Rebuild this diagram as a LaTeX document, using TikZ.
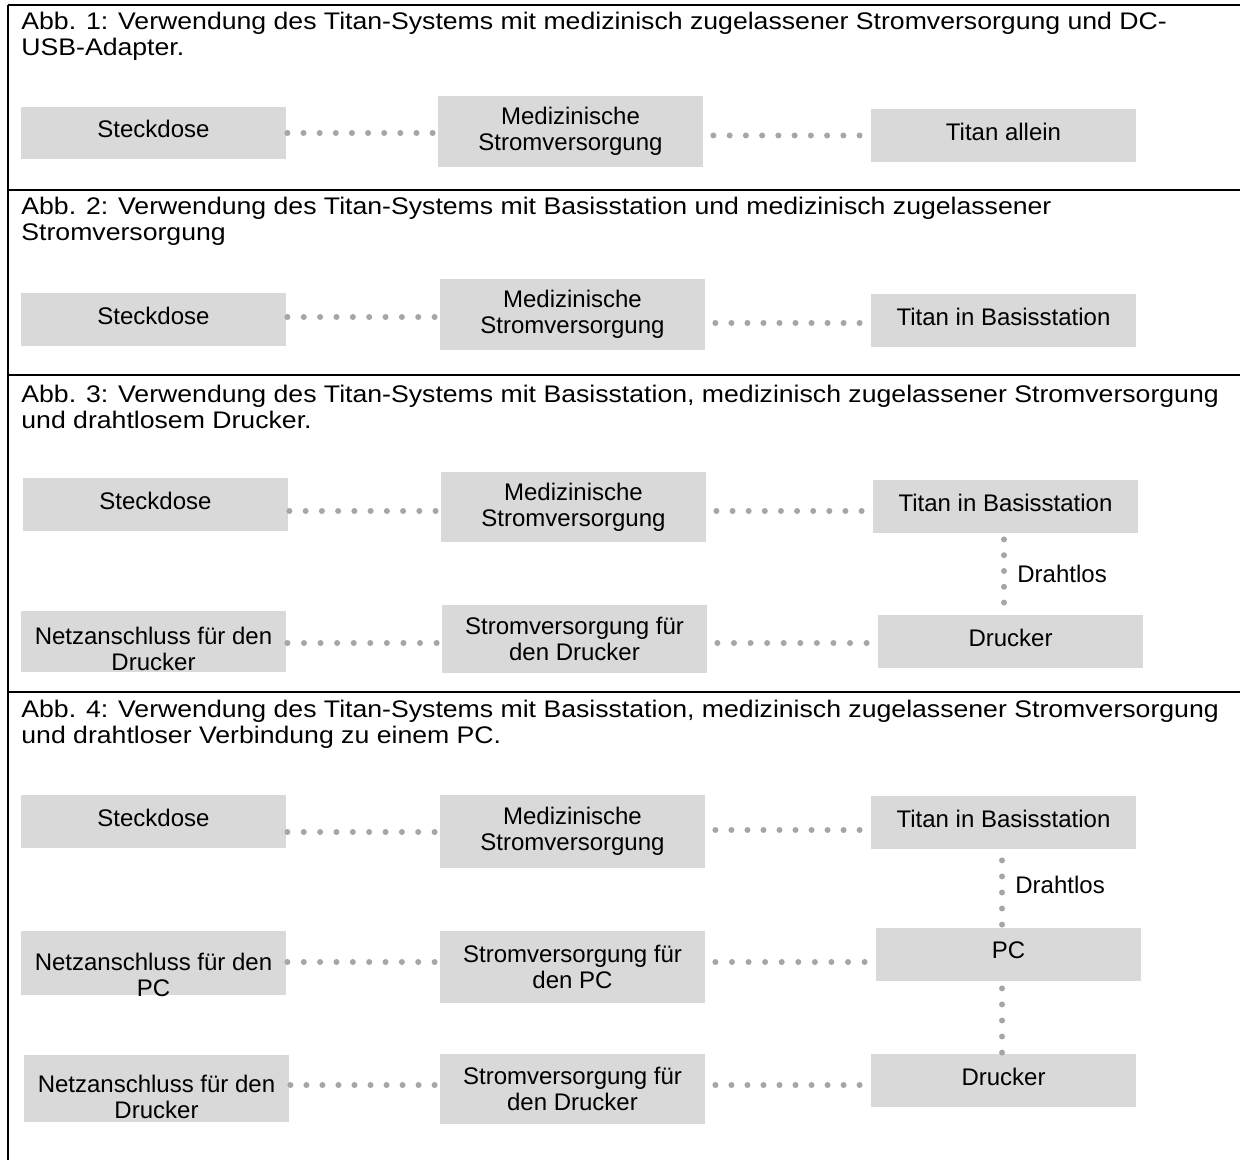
\documentclass[tikz,border=0pt]{standalone}
\usepackage{fontspec}
\setmainfont{Liberation Sans}
\newfontfamily\titlefont[FakeStretch=1.11]{Liberation Sans}
\usetikzlibrary{decorations.markings}
\definecolor{boxgray}{HTML}{D9D9D9}
\definecolor{dotgray}{HTML}{A6A6A6}
\newcommand{\lowtext}[2]{\raisebox{-#1}[\height][\depth]{\begin{tabular}{@{}c@{}}#2\end{tabular}}}
\begin{document}
\begin{tikzpicture}[x=0.5pt,y=-0.5pt,
  txt/.style={font=\fontsize{12pt}{13pt}\selectfont, text=black},
  box/.style={txt, fill=boxgray, minimum width=132.5pt, inner sep=0pt, align=center},
  onebox/.style={box, minimum height=26.5pt, text depth=4pt},
  hdots/.style={postaction={decorate}, decoration={markings,
      mark=between positions 0 and 1 step 0.1111 with {\fill[dotgray] (0,0) circle (1.5pt);}}},
  vdots/.style={postaction={decorate}, decoration={markings,
      mark=between positions 0 and 1 step 0.2499 with {\fill[dotgray] (0,0) circle (1.5pt);}}},
  figtitle/.style={font=\titlefont\fontsize{12pt}{13pt}\selectfont, text=black, anchor=base west, align=left, inner sep=0pt},
  rule/.style={line width=1pt, draw=black},
  wlabel/.style={txt, anchor=west, inner sep=0pt, xshift=6.5pt}]
\useasboundingbox (0,0) rectangle (1240,1160);
% frame
\coordinate (tl) at (8,5);
\coordinate (tr) at (1240,5);
\coordinate (bl) at (8,1160);
\coordinate (r1l) at (8,190);  \coordinate (r1r) at (1240,190);
\coordinate (r2l) at (8,375);  \coordinate (r2r) at (1240,375);
\coordinate (r3l) at (8,692);  \coordinate (r3r) at (1240,692);
\draw[rule] (tl) -- (tr);
\draw[rule] (tl) -- (bl);
\draw[rule] (r1l) -- (r1r);
\draw[rule] (r2l) -- (r2r);
\draw[rule] (r3l) -- (r3r);

% ---------- Abb. 1
\node[figtitle] (t1) at (21,56) {Abb. 1: Verwendung des Titan-Systems mit medizinisch zugelassener Stromversorgung und DC-\\USB-Adapter.};
\node[onebox, minimum height=26pt] (s1a) at (153.5,133) {Steckdose};
\node[box, minimum height=35.5pt] (s1b) at (570.5,131.5) {Medizinische\\Stromversorgung};
\node[onebox] (s1c) at (1003.5,135.5) {Titan allein};
\path[hdots] ([xshift=0.5pt]s1a.east) -- ([xshift=-2.5pt]s1a.east -| s1b.west);
\path[hdots] ([xshift=5pt]s1b.east |- s1c.west) -- ([xshift=-5.5pt]s1c.west);

% ---------- Abb. 2
\node[figtitle] (t2) at (21,241) {Abb. 2: Verwendung des Titan-Systems mit Basisstation und medizinisch zugelassener\\Stromversorgung};
\node[onebox] (s2a) at (153.5,319.5) {Steckdose};
\node[box, minimum height=35.5pt] (s2b) at (572.5,314.5) {Medizinische\\Stromversorgung};
\node[onebox] (s2c) at (1003.5,320.5) {Titan in Basisstation};
\path[hdots] ([xshift=0.5pt]s2a.east |- 0,317) -- ([xshift=-2.5pt]s2b.west |- 0,317);
\path[hdots] ([xshift=5pt]s2b.east |- 0,323) -- ([xshift=-5.5pt]s2c.west |- 0,323);

% ---------- Abb. 3
\node[figtitle] (t3) at (21,428) {Abb. 3: Verwendung des Titan-Systems mit Basisstation, medizinisch zugelassener Stromversorgung\\und drahtlosem Drucker.};
\node[onebox] (s3a) at (155.5,504.5) {Steckdose};
\node[box, minimum height=35pt] (s3b) at (573.5,507) {Medizinische\\Stromversorgung};
\node[onebox] (s3c) at (1005.5,506.5) {Titan in Basisstation};
\node[box, minimum height=30.5pt] (s3d) at (153.5,641.5) {\lowtext{5.5pt}{Netzanschluss für den\\Drucker}};
\node[box, minimum height=34pt] (s3e) at (574.5,639) {Stromversorgung für\\den Drucker};
\node[onebox] (s3f) at (1010.5,641.5) {Drucker};
\path[hdots] ([xshift=0.5pt]s3a.east |- 0,511) -- ([xshift=-2.5pt]s3b.west |- 0,511);
\path[hdots] ([xshift=5pt]s3b.east |- 0,511) -- ([xshift=-5.5pt]s3c.west |- 0,511);
\path[hdots] ([xshift=0.5pt]s3d.east |- 0,643) -- ([xshift=-2.5pt]s3e.west |- 0,643);
\path[hdots] ([xshift=5pt]s3e.east |- 0,643) -- ([xshift=-5.5pt]s3f.west |- 0,643);
\path[vdots] ([xshift=-0.75pt,yshift=-3pt]s3c.south) -- ([xshift=-0.75pt,yshift=6pt]s3c.south |- s3f.north)
  node[wlabel, pos=0.55] (w3) {Drahtlos};

% ---------- Abb. 4
\node[figtitle] (t4) at (21,743) {Abb. 4: Verwendung des Titan-Systems mit Basisstation, medizinisch zugelassener Stromversorgung\\und drahtloser Verbindung zu einem PC.};
\node[onebox] (s4a) at (153.5,821.5) {Steckdose};
\node[box, minimum height=36.5pt] (s4b) at (572.5,831) {Medizinische\\Stromversorgung};
\node[onebox] (s4c) at (1003.5,822.5) {Titan in Basisstation};
\node[box, minimum height=32pt] (s4d) at (153.5,963) {\lowtext{7.75pt}{Netzanschluss für den\\PC}};
\node[box, minimum height=36pt] (s4e) at (572.5,967) {Stromversorgung für\\den PC};
\node[onebox] (s4f) at (1008.5,954.5) {PC};
\node[box, minimum height=33.5pt] (s4g) at (156.5,1088.5) {\lowtext{5.75pt}{Netzanschluss für den\\Drucker}};
\node[box, minimum height=35pt] (s4h) at (572.5,1089) {Stromversorgung für\\den Drucker};
\node[onebox] (s4i) at (1003.5,1080.5) {Drucker};
\path[hdots] ([xshift=0.5pt]s4a.east |- 0,832) -- ([xshift=-2.5pt]s4b.west |- 0,832);
\path[hdots] ([xshift=5pt]s4b.east |- 0,830) -- ([xshift=-5.5pt]s4c.west |- 0,830);
\path[hdots] ([xshift=0.5pt]s4d.east |- 0,962) -- ([xshift=-2.5pt]s4e.west |- 0,962);
\path[hdots] ([xshift=5pt]s4e.east |- 0,962) -- ([xshift=-5.5pt]s4f.west |- 0,962);
\path[hdots] ([xshift=0.5pt]s4g.east |- 0,1085) -- ([xshift=-2.5pt]s4h.west |- 0,1085);
\path[hdots] ([xshift=5pt]s4h.east |- 0,1085) -- ([xshift=-5.5pt]s4i.west |- 0,1085);
\path[vdots] ([xshift=-0.75pt,yshift=-5.5pt]s4c.south) -- ([xshift=-0.75pt,yshift=1.5pt]s4c.south |- s4f.north)
  node[wlabel, pos=0.385] (w4) {Drahtlos};
\path[vdots] ([xshift=-0.75pt,yshift=-3.5pt]s4c.south |- s4f.south) -- ([xshift=-0.75pt,yshift=0.5pt]s4c.south |- s4i.north);
\end{tikzpicture}
\end{document}
